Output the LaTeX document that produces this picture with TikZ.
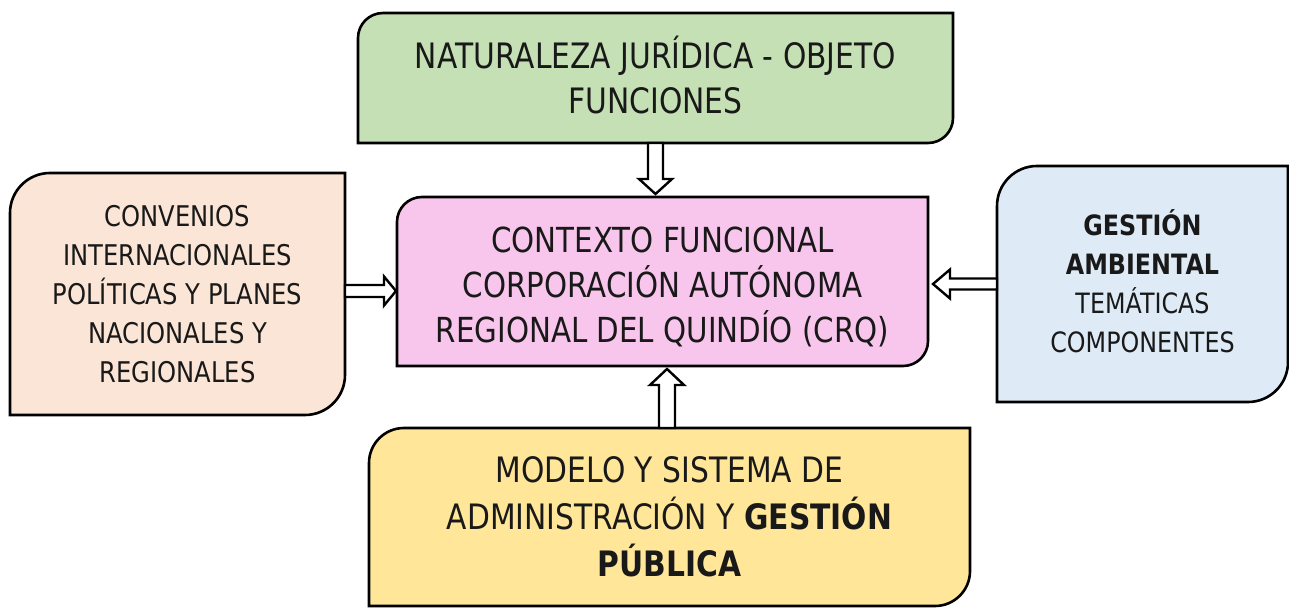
\documentclass[tikz,border=0pt]{standalone}
\usepackage{fontspec}
\setmainfont[FakeStretch=0.85]{DejaVu Sans}
\usetikzlibrary{calc}
\definecolor{cgreen}{HTML}{C5E0B4}
\definecolor{cpink}{HTML}{F8C6EC}
\definecolor{corange}{HTML}{FBE5D6}
\definecolor{cblue}{HTML}{DEEBF7}
\definecolor{cyellow}{HTML}{FFE699}
\newcommand\snipbox[3]{%
  \path[boxline, fill=#3] (#1.south west) -- ([yshift=-#2]#1.north west)
    arc[start angle=180,end angle=90,radius=#2] -- (#1.north east)
    -- ([yshift=#2]#1.south east) arc[start angle=0,end angle=-90,radius=#2] -- cycle;}
\begin{document}
\begin{tikzpicture}[x=1pt,y=1pt,
  frame/.style={inner sep=0pt, outer sep=0pt},
  txt/.style={align=center, inner sep=0pt, text=black!90},
  boxline/.style={draw=black, line width=2.6pt},
  arr/.style={draw=black, line width=2.4pt, fill=white, line join=miter}]
\useasboundingbox (0,0) rectangle (1289,608);

% box frames
\node[frame, minimum width=595, minimum height=130] (nat) at (655.5,530) {};
\node[frame, minimum width=531, minimum height=169] (ctx) at (662.5,326.5) {};
\node[frame, minimum width=335, minimum height=242] (conv) at (177.5,314) {};
\node[frame, minimum width=291, minimum height=236] (gest) at (1142.5,324) {};
\node[frame, minimum width=601, minimum height=178] (mod) at (669.5,91) {};

\snipbox{nat}{25}{cgreen}
\snipbox{ctx}{25}{cpink}
\snipbox{conv}{40}{corange}
\snipbox{gest}{40}{cblue}
\snipbox{mod}{35}{cyellow}

% texts
\node[txt, font=\fontsize{35}{45}\selectfont] (natT) at ([yshift=3]nat.center)
  {NATURALEZA JURÍDICA - OBJETO\\FUNCIONES};
\node[txt, font=\fontsize{34.5}{45}\selectfont] (ctxT) at ([yshift=-5]ctx.center)
  {CONTEXTO FUNCIONAL\\CORPORACIÓN AUTÓNOMA\\REGIONAL DEL QUINDÍO (CRQ)};
\node[txt, font=\fontsize{28.5}{39}\selectfont] (convT) at (conv.center)
  {CONVENIOS\\INTERNACIONALES\\POLÍTICAS Y PLANES\\NACIONALES Y\\REGIONALES};
\node[txt, font=\fontsize{28}{39}\selectfont] (gestT) at ([yshift=2.5]gest.center)
  {\textbf{GESTIÓN}\\\textbf{AMBIENTAL}\\TEMÁTICAS\\COMPONENTES};
\node[txt, font=\fontsize{35}{47}\selectfont] (modT) at (mod.center)
  {MODELO Y SISTEMA DE\\ADMINISTRACIÓN Y \textbf{GESTIÓN}\\\textbf{PÚBLICA}};

% down arrow nat -> ctx
\draw[arr] let \p1=(nat.south), \p2=(ctx.north) in
  (\x1-7.5pt,\y1) -- (\x1-7.5pt,\y2+18pt) -- (\x1-16.5pt,\y2+18pt) -- (\x1,\y2+3pt)
  -- (\x1+16.5pt,\y2+18pt) -- (\x1+7.5pt,\y2+18pt) -- (\x1+7.5pt,\y1) -- cycle;
% right arrow conv -> ctx
\draw[arr] let \p1=(conv.east), \p2=(ctx.west) in
  (\x1,\y1+9pt) -- (\x2-13pt,\y1+9pt) -- (\x2-13pt,\y1+17.5pt) -- (\x2-1pt,\y1+3pt)
  -- (\x2-13pt,\y1-11.5pt) -- (\x2-13pt,\y1-3pt) -- (\x1,\y1-3pt) -- cycle;
% left arrow gest -> ctx
\draw[arr] let \p1=(gest.west), \p2=(ctx.east) in
  (\x1,\y1+5.5pt) -- (\x2+22pt,\y1+5.5pt) -- (\x2+22pt,\y1+14.5pt) -- (\x2+5pt,\y1)
  -- (\x2+22pt,\y1-14.5pt) -- (\x2+22pt,\y1-5.5pt) -- (\x1,\y1-5.5pt) -- cycle;
% up arrow mod -> ctx
\draw[arr] let \p1=(mod.north), \p2=(ctx.south) in
  (\x1-10.5pt,\y1) -- (\x1-10.5pt,\y2-19pt) -- (\x1-19.5pt,\y2-19pt) -- (\x1-2.5pt,\y2-3pt)
  -- (\x1+14.5pt,\y2-19pt) -- (\x1+5.5pt,\y2-19pt) -- (\x1+5.5pt,\y1) -- cycle;
\end{tikzpicture}
\end{document}
